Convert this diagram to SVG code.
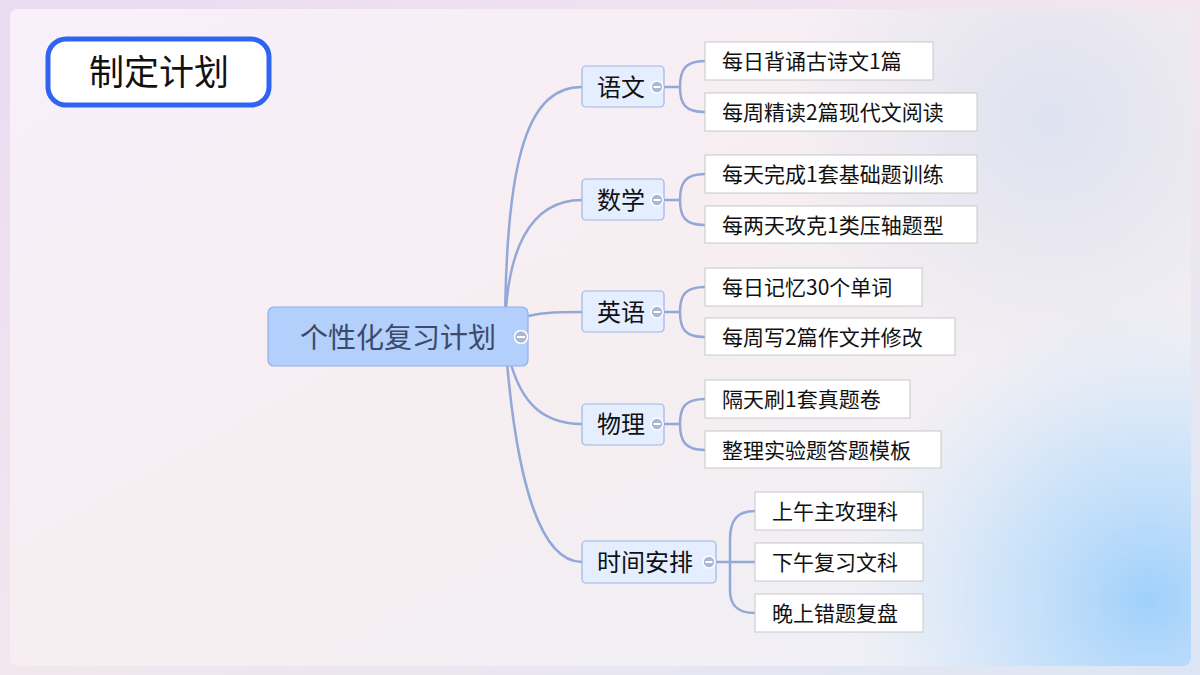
<svg xmlns="http://www.w3.org/2000/svg" width="1200" height="675" viewBox="0 0 1200 675">
<defs>
<linearGradient id="bg" x1="0" y1="0" x2="1" y2="1"><stop offset="0" stop-color="#eadcf2"/><stop offset="0.5" stop-color="#f3e6ee"/><stop offset="1" stop-color="#dde6f5"/></linearGradient>
<linearGradient id="panel" x1="0" y1="0" x2="1" y2="1"><stop offset="0" stop-color="#f8f0fb"/><stop offset="0.5" stop-color="#f6eef0"/><stop offset="1" stop-color="#eef0f8"/></linearGradient>
<radialGradient id="glow" cx="1150" cy="600" r="300" gradientUnits="userSpaceOnUse"><stop offset="0" stop-color="#9fd0fb" stop-opacity="1"/><stop offset="0.5" stop-color="#b8dcfb" stop-opacity="0.6"/><stop offset="1" stop-color="#cfe6fb" stop-opacity="0"/></radialGradient>
<radialGradient id="glow2" cx="1050" cy="120" r="260" gradientUnits="userSpaceOnUse"><stop offset="0" stop-color="#d9dff0" stop-opacity="0.8"/><stop offset="1" stop-color="#d9dff0" stop-opacity="0"/></radialGradient>
</defs>
<style>
.c{fill:none;stroke:#92a8d8;stroke-width:2.5}
.b{fill:#e4eeff;stroke:#9db5e4;stroke-width:1.2}
.l{fill:#fff;stroke:#c8c8c8;stroke-width:1}
.t{font-family:"Noto Sans CJK SC","Noto Sans",sans-serif;fill:#111}
.bt{font-size:24px}
.lt{font-size:21px}
.k{fill:#a9b8d8;stroke:#fff;stroke-width:1.5}
.m{fill:#fff}
</style>
<rect width="1200" height="675" fill="url(#bg)"/>
<rect x="10" y="9" width="1181" height="657" rx="8" fill="url(#panel)"/>
<rect x="10" y="9" width="1181" height="657" rx="8" fill="url(#glow2)"/>
<rect x="10" y="9" width="1181" height="657" rx="8" fill="url(#glow)"/>
<g id="title">
<rect x="48" y="39" width="221" height="66" rx="18" fill="#fff" stroke="#2f64f0" stroke-width="5"/>
<text x="159" y="85" text-anchor="middle" font-family="'Noto Sans CJK SC',serif" font-size="35" fill="#111">制定计划</text>
</g>
<g id="connectors">
<path class="c" d="M505 337 C505 150 530 87 582 87"/>
<path class="c" d="M505 337 C505 250 530 200 582 200"/>
<path class="c" d="M528 316 C545 312 560 312 582 312"/>
<path class="c" d="M505 337 C515 400 540 424 582 424"/>
<path class="c" d="M505 337 C515 480 540 562 582 562"/>
<path class="c" d="M664 87 H680 M705 61 C685 61 680 70 680 87 C680 104 685 112 705 112"/>
<path class="c" d="M664 200 H680 M705 174 C685 174 680 183 680 200 C680 217 685 225 705 225"/>
<path class="c" d="M664 312 H680 M705 287 C685 287 680 295 680 312 C680 329 685 337 705 337"/>
<path class="c" d="M664 424 H680 M705 399 C685 399 680 407 680 424 C680 441 685 450 705 450"/>
<path class="c" d="M716 562 H730 M755 511 C737 511 730 520 730 540 V590 C730 605 737 613 755 613 M730 562 H755"/>
</g>
<g id="root">
<rect x="268" y="307" width="260" height="59" rx="6" fill="#b3cffb" stroke="#8fb0ec" stroke-width="1.2"/>
<text x="398" y="348" text-anchor="middle" class="t" font-size="28" style="fill:#3b4a6b">个性化复习计划</text>
<circle class="k" cx="521" cy="337" r="6.5"/><rect class="m" x="517" y="336" width="8" height="2"/>
</g>
<g id="n1"><rect class="b" x="582" y="66" width="82" height="41" rx="4"/><text class="t bt" x="597" y="96">语文</text><circle class="k" cx="657" cy="87" r="6"/><rect class="m" x="653.5" y="86" width="7" height="2"/></g>
<g id="n2"><rect class="b" x="582" y="179" width="82" height="41" rx="4"/><text class="t bt" x="597" y="209">数学</text><circle class="k" cx="657" cy="200" r="6"/><rect class="m" x="653.5" y="199" width="7" height="2"/></g>
<g id="n3"><rect class="b" x="582" y="291" width="82" height="41" rx="4"/><text class="t bt" x="597" y="321">英语</text><circle class="k" cx="657" cy="312" r="6"/><rect class="m" x="653.5" y="311" width="7" height="2"/></g>
<g id="n4"><rect class="b" x="582" y="404" width="82" height="41" rx="4"/><text class="t bt" x="597" y="433">物理</text><circle class="k" cx="657" cy="424" r="6"/><rect class="m" x="653.5" y="423" width="7" height="2"/></g>
<g id="n5"><rect class="b" x="582" y="541" width="134" height="42" rx="4"/><text class="t bt" x="597" y="571">时间安排</text><circle class="k" cx="709" cy="562" r="6"/><rect class="m" x="705.5" y="561" width="7" height="2"/></g>
<g id="l1"><rect class="l" x="705" y="42" width="228" height="38"/><text class="t lt" x="722" y="69">每日背诵古诗文1篇</text></g>
<g id="l2"><rect class="l" x="705" y="93" width="272" height="38"/><text class="t lt" x="722" y="120">每周精读2篇现代文阅读</text></g>
<g id="l3"><rect class="l" x="705" y="155" width="272" height="38"/><text class="t lt" x="722" y="182">每天完成1套基础题训练</text></g>
<g id="l4"><rect class="l" x="705" y="206" width="272" height="37"/><text class="t lt" x="722" y="233">每两天攻克1类压轴题型</text></g>
<g id="l5"><rect class="l" x="705" y="268" width="217" height="38"/><text class="t lt" x="722" y="295">每日记忆30个单词</text></g>
<g id="l6"><rect class="l" x="705" y="318" width="250" height="37"/><text class="t lt" x="722" y="345">每周写2篇作文并修改</text></g>
<g id="l7"><rect class="l" x="705" y="380" width="205" height="38"/><text class="t lt" x="722" y="407">隔天刷1套真题卷</text></g>
<g id="l8"><rect class="l" x="705" y="431" width="236" height="37"/><text class="t lt" x="722" y="458">整理实验题答题模板</text></g>
<g id="l9"><rect class="l" x="755" y="492" width="168" height="38"/><text class="t lt" x="772" y="519">上午主攻理科</text></g>
<g id="l10"><rect class="l" x="755" y="543" width="168" height="38"/><text class="t lt" x="772" y="570">下午复习文科</text></g>
<g id="l11"><rect class="l" x="755" y="594" width="168" height="38"/><text class="t lt" x="772" y="621">晚上错题复盘</text></g>
</svg>
